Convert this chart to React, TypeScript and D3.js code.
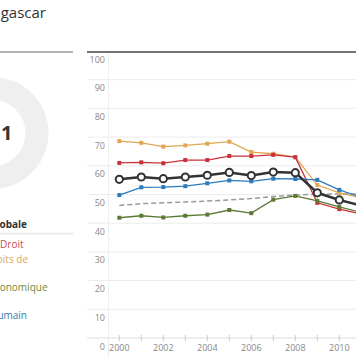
import React, { useEffect } from "react";
import * as d3 from "d3";

const years = [2000, 2001, 2002, 2003, 2004, 2005, 2006, 2007, 2008, 2009, 2010, 2011];
const overall = [55.3, 56.1, 55.5, 56.1, 56.7, 57.7, 56.6, 57.8, 57.6, 50.6, 48.1, 46.1];
const securite = [61.0, 61.2, 60.9, 62.0, 62.0, 63.4, 63.4, 63.8, 63.0, 47.1, 44.9, 43.2];
const participation = [68.6, 68.0, 66.7, 67.1, 67.7, 68.4, 64.8, 64.2, 63.0, 53.3, 50.6, 48.8];
const economique = [41.9, 42.6, 42.0, 42.6, 43.0, 44.6, 43.5, 48.2, 49.5, 47.8, 45.7, 43.7];
const humain = [49.8, 52.5, 52.6, 52.9, 53.9, 54.9, 54.6, 55.5, 55.4, 55.1, 51.6, 49.0];
const moyenne = [46.2, 46.8, 47.1, 47.4, 47.7, 48.1, 48.6, 49.3, 49.8, 50.1, 50.2, 50.2];
const yTicks = [0, 10, 20, 30, 40, 50, 60, 70, 80, 90, 100];
const xLabels = [2000, 2002, 2004, 2006, 2008, 2010];

const legendItems = [
  { label: "Gouvernance Globale", color: "#333333", bold: true },
  { label: "Sécurité & Etat de Droit", color: "#cc4a50", bold: false },
  { label: "Participation & Droits de", color: "#dfa75a", bold: false },
  { label: "Développement Economique", color: "#6f8a3c", bold: false },
  { label: "Développement Humain", color: "#3a7bb3", bold: false },
];
const legendEnds = [27, 23.5, 28, 47.5, 27];
const legendBase = [227.5, 248, 262.7, 291, 318.7];

const W = 356;
const H = 364;
const FONT = "'Open Sans', sans-serif";

export default function App() {
  useEffect(() => {
    document.body.style.margin = "0";
  }, []);

  const x = d3.scaleLinear().domain([2000, 2010]).range([119.3, 339.3]);
  const y = d3.scaleLinear().domain([0, 100]).range([338, 51]);
  const line = d3
    .line<number>()
    .x((_, i) => x(years[i]))
    .y((v) => y(v));

  const series = [
    { data: participation, color: "#e0a652" },
    { data: securite, color: "#c9323d" },
    { data: economique, color: "#5b7a35" },
    { data: humain, color: "#2c7bbd" },
  ];

  const arc = d3.arc()({ innerRadius: 33, outerRadius: 56, startAngle: 0, endAngle: Math.PI * 2 }) as string;

  return (
    <svg width={W} height={H} style={{ display: "block", fontFamily: FONT }}>
      <rect width={W} height={H} fill="#fff" />
      {/* title */}
      <text x={46} y={18} textAnchor="end" fontSize={15} fill="#333">Madagascar</text>
      <line x1={0} x2={73} y1={52} y2={52} stroke="#9a9a9a" strokeWidth={1.5} />

      {/* donut */}
      <path d={arc} transform="translate(-7.5,133)" fill="#efefef" />
      <text x={-7.5} y={139.5} textAnchor="middle" fontSize={20} fontWeight="bold" fill="#333">46,1</text>

      {/* legend */}
      {legendItems.map((it, i) => (
        <text key={it.label} x={legendEnds[i]} y={legendBase[i]} textAnchor="end" fontSize={10}
          fontWeight={it.bold ? "bold" : "normal"} fill={it.color}>{it.label}</text>
      ))}
      <line x1={0} x2={73} y1={233.5} y2={233.5} stroke="#e8e8e8" strokeWidth={1.5} />

      {/* grid */}
      {yTicks.map((t) => (
        <g key={t}>
          {t > 0 && t < 100 && (
            <line x1={87} x2={W} y1={y(t)} y2={y(t)} stroke="#ececec" strokeWidth={1} />
          )}
          <text x={105} y={y(t) + 11.5} textAnchor="end" fontSize={9} fill="#888">{t}</text>
        </g>
      ))}
      <line x1={108.5} x2={108.5} y1={52} y2={358} stroke="#efefef" strokeWidth={1} />
      <line x1={87} x2={W} y1={y(0)} y2={y(0)} stroke="#dcdcdc" strokeWidth={1} />
      <line x1={87} x2={W} y1={52} y2={52} stroke="#444" strokeWidth={1.5} />
      {years.map((yr) => (
        <line key={yr} x1={x(yr)} x2={x(yr)} y1={335} y2={341} stroke="#cccccc" strokeWidth={1} />
      ))}
      {xLabels.map((yr) => (
        <text key={yr} x={x(yr)} y={351} textAnchor="middle" fontSize={9} fill="#888">{yr}</text>
      ))}

      {/* average dashed */}
      <path d={line(moyenne) as string} fill="none" stroke="#9a9a9a" strokeWidth={1.5} strokeDasharray="5,3" />

      {series.map((s, si) => (
        <g key={si}>
          <path d={line(s.data) as string} fill="none" stroke={s.color} strokeWidth={1.3} />
          {s.data.map((v, i) => (
            <rect key={i} x={x(years[i]) - 2} y={y(v) - 2} width={4} height={4} fill={s.color} />
          ))}
        </g>
      ))}

      <path d={line(overall) as string} fill="none" stroke="#333" strokeWidth={2.5} />
      {overall.map((v, i) => (
        <circle key={i} cx={x(years[i])} cy={y(v)} r={3.6} fill="#fff" stroke="#333" strokeWidth={2} />
      ))}
    </svg>
  );
}
